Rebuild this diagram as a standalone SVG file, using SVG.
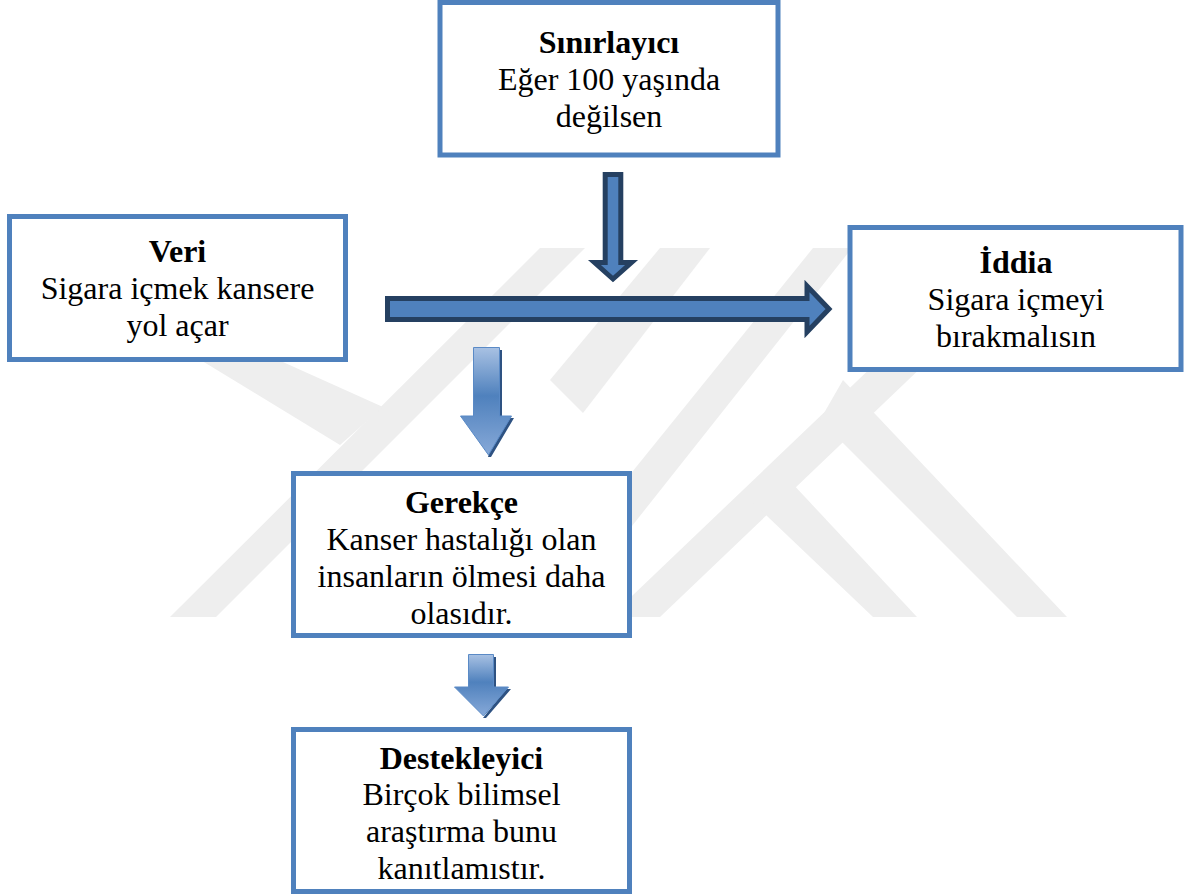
<svg xmlns="http://www.w3.org/2000/svg" width="1185" height="894" viewBox="0 0 1185 894">
<defs>
<style>
.box{fill:#ffffff;stroke:#4f81bd;stroke-width:5}
.t{font-family:"Liberation Serif","Times New Roman",serif;font-size:32px;fill:#000;text-anchor:middle}
.h{font-weight:bold}
.wm{fill:#eeeeee}
.bigarrow{fill:#4f81bd;stroke:#254061;stroke-width:5;stroke-linejoin:miter}
.garrow{fill:url(#ag);stroke:#5a8ac6;stroke-width:1}
.gshadow{fill:#2e5282}
</style>
<linearGradient id="ag" x1="0" y1="0" x2="0" y2="1">
<stop offset="0" stop-color="#a8c1e3"/>
<stop offset="0.45" stop-color="#4f81bd"/>
<stop offset="1" stop-color="#87a9d8"/>
</linearGradient>
</defs>
<rect width="1185" height="894" fill="#ffffff"/>
<g id="watermark">
<polygon class="wm" points="170,617 216,617 585,248 540,248"/>
<polygon class="wm" points="102,300 145,300 383,407 340,445"/>
<polygon class="wm" points="660,248 710,248 583,413 550,380"/>
<polygon class="wm" points="813,248 852,248 560,617 515,617"/>
<polygon class="wm" points="900,340 950,340 660,617 610,617"/>
<polygon class="wm" points="777,467 747,497 873,617 917,617"/>
<polygon class="wm" points="843,380 820,420 1017,617 1067,617"/>
</g>
<g id="connectors">
<polygon class="bigarrow" points="387.5,298.5 807,298.5 807,286 829,309 807,332 807,319.5 387.5,319.5"/>
<polygon class="bigarrow" points="605.2,174.5 620.8,174.5 620.8,262.5 631.5,262.5 613,279 594.5,262.5 605.2,262.5"/>
<polygon class="gshadow" points="476,350 502,350 502,418 514,418 491,457 488,457 499,418 499,350"/>
<polygon class="garrow" points="473.5,347.5 499.5,347.5 499.5,416 511.5,416 488.5,455 460.5,416 473.5,416"/>
<polygon class="gshadow" points="471,657 496,657 496,689 511,689 486,718 483,718 506,689 493,689"/>
<polygon class="garrow" points="468.5,654.5 493.5,654.5 493.5,687 508.5,687 483.5,716 454.5,687 468.5,687"/>
</g>
<g id="node-sinirlayici">
<rect class="box" x="440" y="2.5" width="338" height="152.5"/>
<text class="t h" x="609" y="53">Sınırlayıcı</text>
<text class="t" x="609" y="90">Eğer 100 yaşında</text>
<text class="t" x="609" y="127">değilsen</text>
</g>
<g id="node-veri">
<rect class="box" x="9.5" y="216.5" width="336" height="143"/>
<text class="t h" x="177.5" y="262">Veri</text>
<text class="t" x="177.5" y="299">Sigara içmek kansere</text>
<text class="t" x="177.5" y="336">yol açar</text>
</g>
<g id="node-iddia">
<rect class="box" x="850" y="227.5" width="331" height="142"/>
<text class="t h" x="1016" y="273">İddia</text>
<text class="t" x="1016" y="310">Sigara içmeyi</text>
<text class="t" x="1016" y="347">bırakmalısın</text>
</g>
<g id="node-gerekce">
<rect class="box" x="293.5" y="473.5" width="336" height="162"/>
<text class="t h" x="461.5" y="513">Gerekçe</text>
<text class="t" x="461.5" y="550">Kanser hastalığı olan</text>
<text class="t" x="461.5" y="587">insanların ölmesi daha</text>
<text class="t" x="461.5" y="623.5">olasıdır.</text>
</g>
<g id="node-destekleyici">
<rect class="box" x="293.5" y="729.5" width="336" height="162"/>
<text class="t h" x="461.5" y="768.5">Destekleyici</text>
<text class="t" x="461.5" y="805">Birçok bilimsel</text>
<text class="t" x="461.5" y="842">araştırma bunu</text>
<text class="t" x="461.5" y="878.5">kanıtlamıstır.</text>
</g>
</svg>
